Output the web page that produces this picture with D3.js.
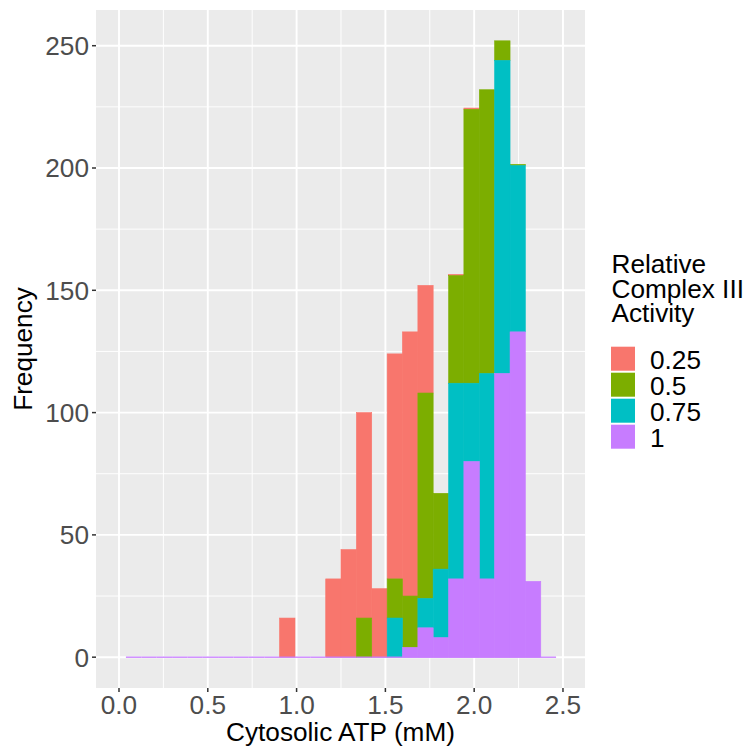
<!DOCTYPE html>
<html>
<head>
<meta charset="utf-8">
<script src="https://cdn.jsdelivr.net/npm/d3@7"></script>
<style>
  html, body { margin: 0; padding: 0; background: #fff; }
  svg { display: block; font-family: "Liberation Sans", Arial, Helvetica, sans-serif; }
</style>
</head>
<body>
<svg id="chart" width="748" height="752"></svg>
<script>
// ---- data ----
const binLeft = [0.039, 0.126, 0.212, 0.299, 0.385, 0.472, 0.558, 0.645, 0.731, 0.818,
                 0.904, 0.991, 1.077, 1.164, 1.250, 1.337, 1.423, 1.510, 1.596, 1.683,
                 1.769, 1.856, 1.942, 2.029, 2.115, 2.202, 2.288, 2.375];
const binRight = [0.126, 0.212, 0.299, 0.385, 0.472, 0.558, 0.645, 0.731, 0.818, 0.904,
                  0.991, 1.077, 1.164, 1.250, 1.337, 1.423, 1.510, 1.596, 1.683, 1.769,
                  1.856, 1.942, 2.029, 2.115, 2.202, 2.288, 2.375, 2.461];
const groups = ["0.25", "0.5", "0.75", "1"];
const count025 = [0,0,0,0,0,0,0,0,0,0, 16,0,0,32,44,84,28,92,108,44, 0,0.5,0.5,0,0,0,0,0];
const count05  = [0,0,0,0,0,0,0,0,0,0, 0,0,0,0,0,16,0,16,21,84, 31,44,112,116,8,0.5,0,0];
const count075 = [0,0,0,0,0,0,0,0,0,0, 0,0,0,0,0,0,0,16,0,12, 28,80,32,84,128,68,0,0];
const count1   = [0,0,0,0,0,0,0,0,0,0, 0,0,0,0,0,0,0,0,4,12, 8,32,80,32,116,133,31,0];
const colors = ["#F8766D", "#7CAE00", "#00BFC4", "#C77CFF"];
const xTicks = [0, 0.5, 1.0, 1.5, 2.0, 2.5];
const xTickLabels = ["0.0", "0.5", "1.0", "1.5", "2.0", "2.5"];
const xMinor = [0.25, 0.75, 1.25, 1.75, 2.25];
const yTicks = [0, 50, 100, 150, 200, 250];
const yMinor = [25, 75, 125, 175, 225];
const xTitle = "Cytosolic ATP (mM)";
const yTitle = "Frequency";
const legendTitle = ["Relative", "Complex III", "Activity"];

// ---- layout ----
const panel = { left: 96, right: 585, top: 10, bottom: 688 };
const FS = 26.2;
const svg = d3.select("#chart");

const x = d3.scaleLinear().domain([-0.1295, 2.624]).range([panel.left, panel.right]);
const y = d3.scaleLinear().domain([-12.6, 264.6]).range([panel.bottom, panel.top]);
const color = d3.scaleOrdinal().domain(groups).range(colors);

// table
const seriesArrays = { "0.25": count025, "0.5": count05, "0.75": count075, "1": count1 };
const table = binLeft.map((l, i) => {
  const row = { x0: l, x1: binRight[i] };
  groups.forEach(g => row[g] = seriesArrays[g][i]);
  return row;
});
// stack: "1" at bottom, "0.25" on top
const stackKeys = groups.slice().reverse();
const stacked = d3.stack().keys(stackKeys)(table);

// panel background
svg.append("rect")
  .attr("x", panel.left).attr("y", panel.top)
  .attr("width", panel.right - panel.left).attr("height", panel.bottom - panel.top)
  .attr("fill", "#EBEBEB");

const grid = svg.append("g");
grid.selectAll(".yminor").data(yMinor).join("line")
  .attr("x1", panel.left).attr("x2", panel.right)
  .attr("y1", d => y(d)).attr("y2", d => y(d))
  .attr("stroke", "#fff").attr("stroke-width", 0.95);
grid.selectAll(".xminor").data(xMinor).join("line")
  .attr("y1", panel.top).attr("y2", panel.bottom)
  .attr("x1", d => x(d)).attr("x2", d => x(d))
  .attr("stroke", "#fff").attr("stroke-width", 0.95);
grid.selectAll(".ymajor").data(yTicks).join("line")
  .attr("x1", panel.left).attr("x2", panel.right)
  .attr("y1", d => y(d)).attr("y2", d => y(d))
  .attr("stroke", "#fff").attr("stroke-width", 1.9);
grid.selectAll(".xmajor").data(xTicks).join("line")
  .attr("y1", panel.top).attr("y2", panel.bottom)
  .attr("x1", d => x(d)).attr("x2", d => x(d))
  .attr("stroke", "#fff").attr("stroke-width", 1.9);

// bars: top group drawn first; each rect outlined in its own colour to close seams
const drawOrder = stacked.slice().reverse();
svg.append("g").selectAll("g").data(drawOrder).join("g")
  .attr("fill", d => color(d.key))
  .attr("stroke", d => color(d.key))
  .attr("stroke-width", 0.6)
  .each(function(s) {
    d3.select(this).selectAll("rect").data(s.filter(d => d[1] - d[0] > 0)).join("rect")
      .attr("x", d => x(d.data.x0))
      .attr("width", d => x(d.data.x1) - x(d.data.x0))
      .attr("y", d => y(d[1]))
      .attr("height", d => y(d[0]) - y(d[1]));
  });

// zero-line outline of the bottom group across every bin
const bottomSeries = stacked[0];
svg.append("g").selectAll("line").data(bottomSeries).join("line")
  .attr("x1", d => x(d.data.x0)).attr("x2", d => x(d.data.x1))
  .attr("y1", d => y(d[0])).attr("y2", d => y(d[0]))
  .attr("stroke", color(bottomSeries.key)).attr("stroke-width", 1.3);

// axes
const axisCol = "#333333";
const tickCol = "#4D4D4D";
const yAxis = svg.append("g");
yAxis.selectAll("line").data(yTicks).join("line")
  .attr("x1", panel.left - 4).attr("x2", panel.left)
  .attr("y1", d => y(d)).attr("y2", d => y(d))
  .attr("stroke", axisCol).attr("stroke-width", 1.5);
yAxis.selectAll("text").data(yTicks).join("text")
  .attr("x", panel.left - 7).attr("y", d => y(d) + FS * 0.358)
  .attr("text-anchor", "end").attr("font-size", FS).attr("fill", tickCol)
  .text(d => d);

const xAxis = svg.append("g");
xAxis.selectAll("line").data(xTicks).join("line")
  .attr("y1", panel.bottom).attr("y2", panel.bottom + 4)
  .attr("x1", d => x(d)).attr("x2", d => x(d))
  .attr("stroke", axisCol).attr("stroke-width", 1.5);
xAxis.selectAll("text").data(xTicks).join("text")
  .attr("x", d => x(d)).attr("y", 714)
  .attr("text-anchor", "middle").attr("font-size", FS).attr("fill", tickCol)
  .text((d, i) => xTickLabels[i]);

svg.append("text")
  .attr("x", (panel.left + panel.right) / 2).attr("y", 740.7)
  .attr("text-anchor", "middle").attr("font-size", FS).attr("fill", "#000")
  .text(xTitle);
svg.append("text")
  .attr("transform", `translate(32,${(panel.top + panel.bottom) / 2}) rotate(-90)`)
  .attr("text-anchor", "middle").attr("font-size", FS).attr("fill", "#000")
  .text(yTitle);

// legend
const lg = svg.append("g");
lg.selectAll("text.title").data(legendTitle).join("text")
  .attr("class", "title")
  .attr("x", 611.5).attr("y", (d, i) => 273.3 + i * 24.2)
  .attr("font-size", FS).attr("fill", "#000")
  .text(d => d);
const keyTop = 346.7, keyPitch = 26, keySize = 24;
lg.selectAll("rect").data(groups).join("rect")
  .attr("x", 611).attr("y", (d, i) => keyTop + i * keyPitch)
  .attr("width", keySize).attr("height", keySize)
  .attr("fill", d => color(d));
lg.selectAll("text.lab").data(groups).join("text")
  .attr("class", "lab")
  .attr("x", 650).attr("y", (d, i) => keyTop + i * keyPitch + 22.6)
  .attr("font-size", FS).attr("fill", "#000")
  .text(d => d);
</script>
</body>
</html>
